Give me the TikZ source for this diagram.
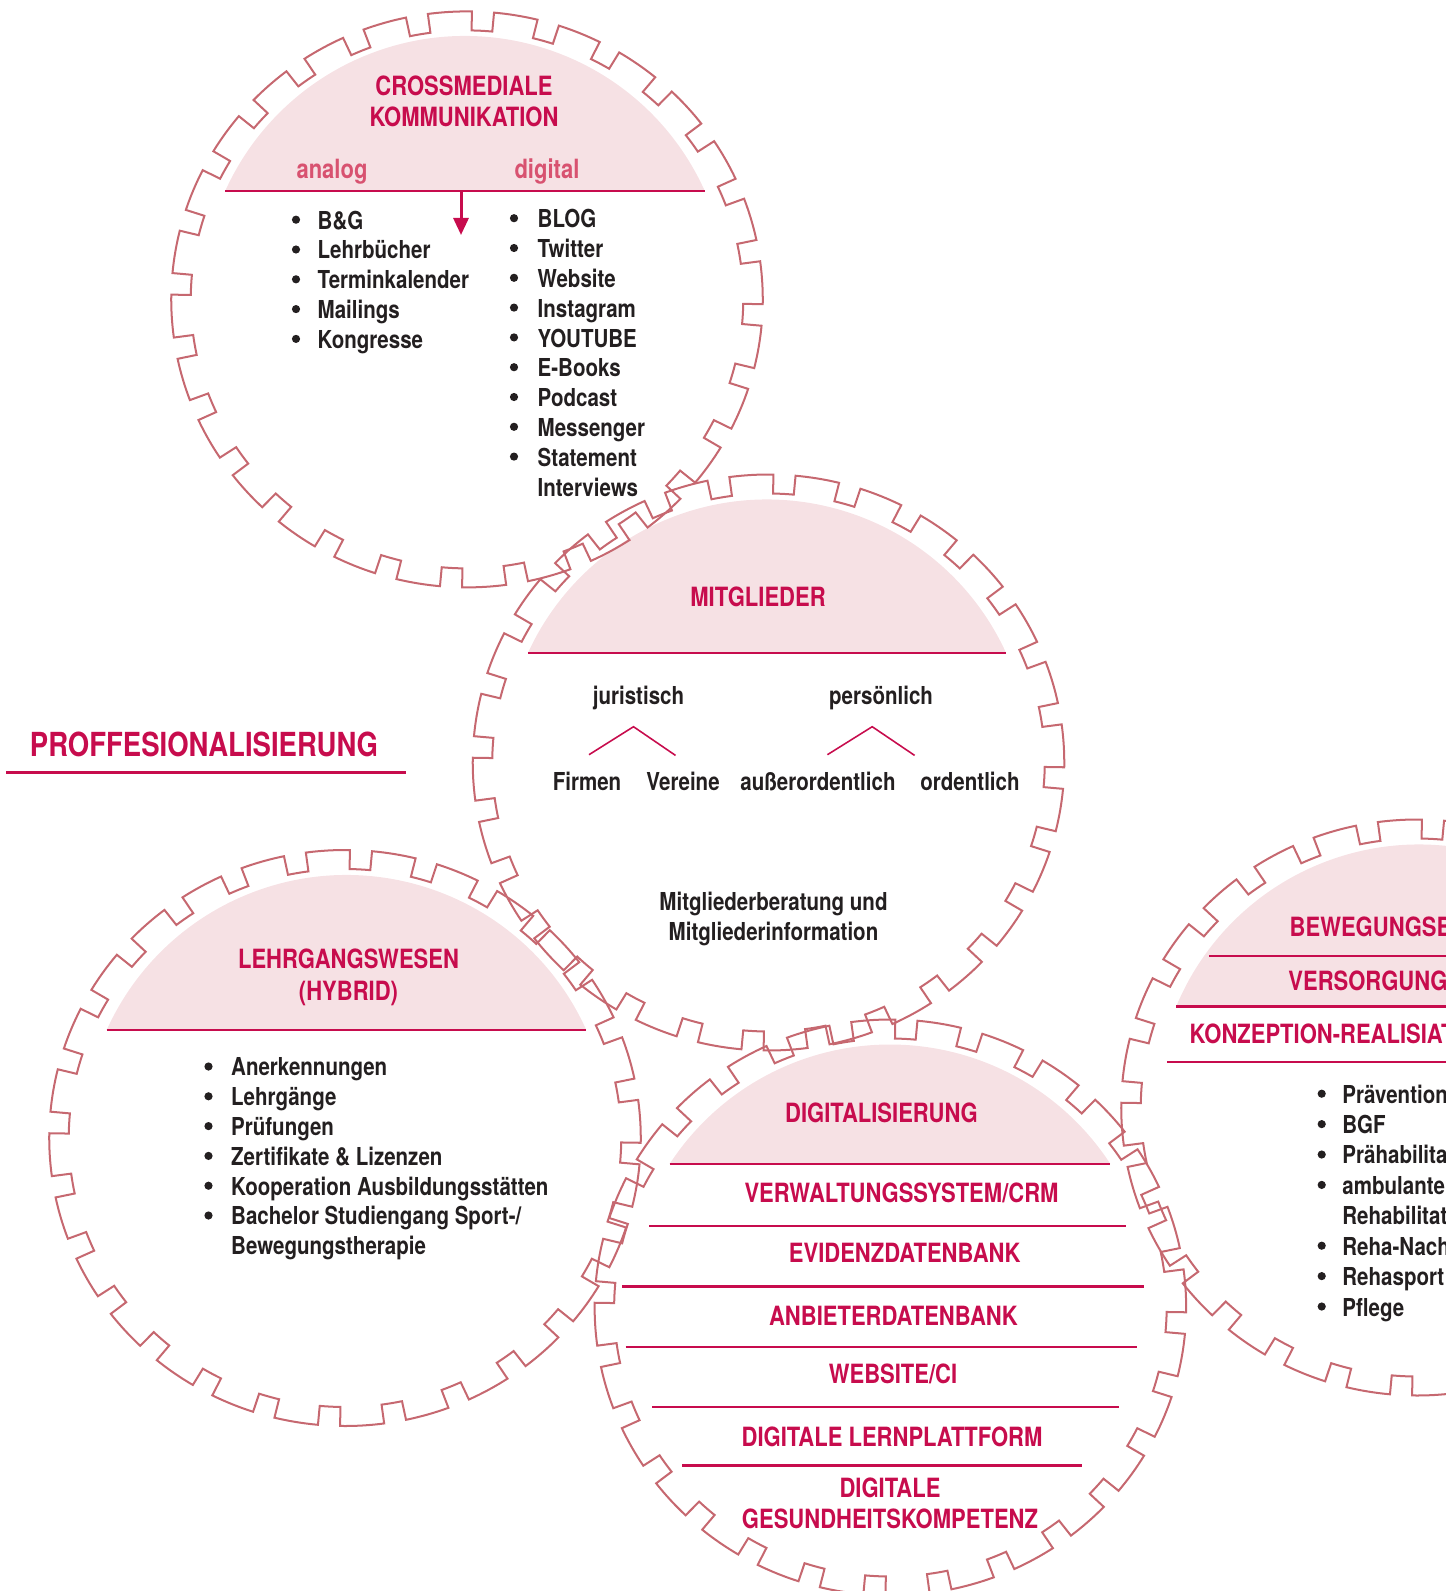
\documentclass[tikz,border=0pt]{standalone}
\usepackage{fontspec}
\setmainfont{TeX Gyre Heros}[FakeStretch=0.83]
\usetikzlibrary{positioning,arrows.meta}

\definecolor{gearcol}{RGB}{198,104,112}
\definecolor{mred}{RGB}{199,12,77}
\definecolor{mpink}{RGB}{246,225,228}
\definecolor{mlight}{RGB}{216,82,112}
\definecolor{mtext}{RGB}{35,31,32}

\tikzset{
	gearring/.style={draw=gearcol, line width=0.57pt, line join=miter},
	head/.style={text=mred, font=\bfseries\fontsize{7.54}{9}\selectfont, inner sep=0pt, align=center},
	sub/.style={text=mlight, font=\bfseries\fontsize{7.54}{9}\selectfont, inner sep=0pt},
	txt/.style={text=mtext, font=\bfseries\fontsize{7.03}{8.48}\selectfont, inner sep=0pt},
	lst/.style={txt, align=left, anchor=north west},
	dot/.style={fill=mtext},
	rline/.style={draw=mred, line width=0.7pt},
	caret/.style={draw=mred, line width=0.45pt},
	arr/.style={draw=mred, line width=0.85pt, -{Triangle[length=1.7mm,width=1.5mm]}}
}

% gear with 28 notches, centre #1,#2 (a little wider than high)
\newcommand{\drawgear}[2]{%
	\begin{scope}[shift={(#1,#2)}, xscale=1.027]
		\draw[gearring] (89.05:288)
		\foreach \k in {0,...,27}{
			arc[start angle={89.05+\k*12.857}, end angle={97.61+\k*12.857}, radius=288]
			-- ({97.61+\k*12.857}:269)
			arc[start angle={97.61+\k*12.857}, end angle={101.91+\k*12.857}, radius=269]
			-- ({101.91+\k*12.857}:288)
		} -- cycle;
	\end{scope}}

% pink cap above a chord #3 over the centre
\newcommand{\pinkcap}[3]{%
	\begin{scope}[shift={(#1,#2)}]
		\pgfmathsetmacro\capang{asin(#3/263)}
		\fill[mpink] (\capang:263) arc[start angle=\capang, end angle={180-\capang}, radius=263] -- cycle;
		\draw[rline] ({180-\capang}:263) -- (\capang:263);
	\end{scope}}

\begin{document}
\begin{tikzpicture}[x=0.01cm,y=0.01cm]
	
	\useasboundingbox (0,0) rectangle (1446,-1591);
	\clip (0,0) rectangle (1446,-1591);
	
	% caps
	\pinkcap{465}{-299}{108}
	\pinkcap{767}{-762.5}{109.5}
	\pinkcap{346.5}{-1138}{108}
	\pinkcap{890}{-1307.5}{143.5}
	\pinkcap{1419}{-1107.5}{100.8}
	
	% gears
	\drawgear{467}{-299.4}
	\drawgear{768.5}{-762.5}
	\drawgear{345}{-1138}
	\drawgear{890.4}{-1307.5}
	\drawgear{1417}{-1107.5}
	
	% crossmediale kommunikation
	\node[head, anchor=north] (cross) at (464,-75) {CROSSMEDIALE\\KOMMUNIKATION};
	\node[sub, anchor=base] (analog) at (332,-179) {analog};
	\node[sub, anchor=base] (digital) at (547,-179) {digital};
	\coordinate (split) at (461,-191);
	\draw[arr] (split) -- ++(0,-44);
	\node[lst] (analoglist) at (317,-210)
	{B\&G\\Lehrbücher\\Terminkalender\\Mailings\\Kongresse};
	\foreach \i in {0,...,4}
	\fill[dot] (296,{-228-\i*29.8+8.3}) circle (4.1);
	\node[lst] (digitallist) at (537,-208.7)
	{BLOG\\Twitter\\Website\\Instagram\\YOUTUBE\\E-Books\\Podcast\\Messenger\\Statement\\Interviews};
	\foreach \i in {0,...,8}
	\fill[dot] (514,{-226.5-\i*29.8+8.3}) circle (4.1);
	
	% mitglieder
	\node[head, anchor=base] (mitglieder) at (758,-606.6) {MITGLIEDER};
	\node[txt, anchor=base] (jur) at (638.5,-704) {juristisch};
	\node[txt, anchor=base] (pers) at (881,-704) {persönlich};
	\node[txt, anchor=base] (firmen) at (587,-790) {Firmen};
	\node[txt, anchor=base] (vereine) at (683,-790) {Vereine};
	\node[txt, anchor=base] (ausser) at (818,-790) {außerordentlich};
	\node[txt, anchor=base] (ordentl) at (970,-790) {ordentlich};
	\draw[caret] ([shift={(-49.5,-50.7)}]jur.base) -- ([shift={(-5,-22.7)}]jur.base) -- ([shift={(37,-51.4)}]jur.base);
	\draw[caret] ([shift={(-53.6,-50.7)}]pers.base) -- ([shift={(-8.8,-22.7)}]pers.base) -- ([shift={(33.6,-51.4)}]pers.base);
	\node[txt, align=center, anchor=north] (beratung) at (773.5,-891.7)
	{Mitgliederberatung und\\Mitgliederinformation};
	
	% proffesionalisierung
	\node[head, font=\bfseries\fontsize{9.42}{11}\selectfont, anchor=base] (proff) at (204,-756.6) {PROFFESIONALISIERUNG};
	\draw[rline, line width=0.85pt] ([shift={(-198,-16)}]proff.base) -- ([shift={(202,-16)}]proff.base);
	
	% lehrgangswesen
	\node[head, anchor=north] (lehrgang) at (348.5,-948) {LEHRGANGSWESEN\\(HYBRID)};
	\node[lst] (lehrlist) at (230.5,-1057)
	{Anerkennungen\\Lehrgänge\\Prüfungen\\Zertifikate \& Lizenzen\\Kooperation Ausbildungsstätten\\Bachelor Studiengang Sport-/\\Bewegungstherapie};
	\foreach \i in {0,...,5}
	\fill[dot] (208.5,{-1074.8-\i*29.8+8.3}) circle (4.1);
	
	% digitalisierung
	\node[head, anchor=base] (digi) at (881.5,-1122.5) {DIGITALISIERUNG};
	\node[head, anchor=base] (crm) at (901.5,-1202.4) {VERWALTUNGSSYSTEM/CRM};
	\draw[rline] (649,-1226.2) -- (1125.7,-1226.2);
	\node[head, anchor=base] (evidenz) at (904.7,-1262.7) {EVIDENZDATENBANK};
	\draw[rline] (622.3,-1286.5) -- (1143.5,-1286.5);
	\node[head, anchor=base] (anbieter) at (893.4,-1325) {ANBIETERDATENBANK};
	\draw[rline] (625.5,-1346.8) -- (1136.7,-1346.8);
	\node[head, anchor=base] (webci) at (893,-1383.7) {WEBSITE/CI};
	\draw[rline] (652,-1407) -- (1119,-1407);
	\node[head, anchor=base] (lernpl) at (892,-1446) {DIGITALE LERNPLATTFORM};
	\draw[rline] (682,-1465.5) -- (1082,-1465.5);
	\node[head, anchor=north] (kompetenz) at (890,-1476.7) {DIGITALE\\GESUNDHEITSKOMPETENZ};
	
	% bewegungsbezogene versorgung
	\node[head, anchor=base west] (bewegung) at (1289,-936.6) {BEWEGUNGSBEZOGENE};
	\draw[rline] (1209,-956) -- (1446,-956);
	\node[head, anchor=base west] (versorgung) at (1287.7,-990.6) {VERSORGUNG};
	\node[head, anchor=base west] (konzeption) at (1189,-1043.8) {KONZEPTION-REALISIATION};
	\draw[rline] (1167,-1062) -- (1446,-1062);
	\node[lst, font=\bfseries\fontsize{7.03}{8.65}\selectfont] (bewlist) at (1341.7,-1084)
	{Prävention\\BGF\\Prähabilitation\\ambulante\\Rehabilitation\\Reha-Nachsorge\\Rehasport\\Pflege};
	\foreach \i in {0,1,2,3,5,6,7}
	\fill[dot] (1321.7,{-1102-\i*30.4+8.3}) circle (4.1);
	
\end{tikzpicture}
\end{document}
